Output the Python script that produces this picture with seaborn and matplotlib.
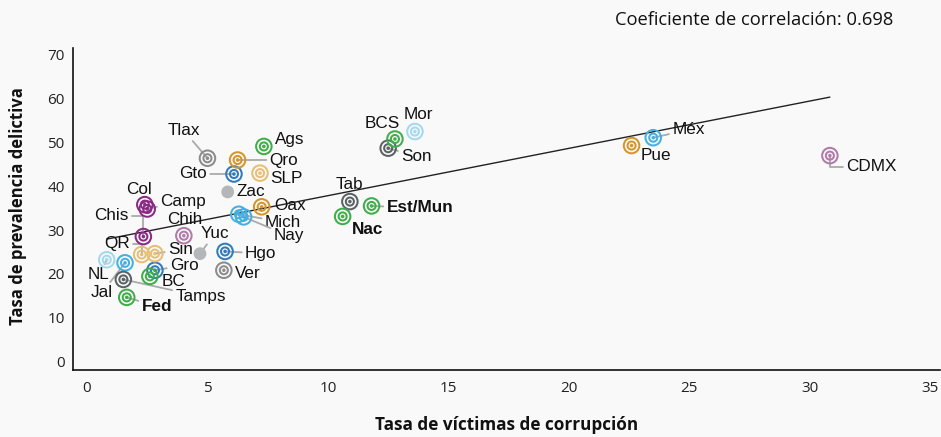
import pandas as pd
import seaborn as sns
import matplotlib.pyplot as plt
from matplotlib.path import Path
from matplotlib import font_manager

# Datos
entidades = ['Ags', 'Tlax', 'Qro', 'Gto', 'SLP', 'Zac', 'Oax', 'Mich', 'Nay', 'Col',
             'Camp', 'Chis', 'Chih', 'QR', 'Yuc', 'Sin', 'Hgo', 'Gro', 'Ver', 'BC',
             'NL', 'Jal', 'Tamps', 'Fed', 'BCS', 'Mor', 'Son', 'Tab', 'Est/Mun', 'Nac',
             'Méx', 'Pue', 'CDMX']
tasa_corrupcion = [7.34, 5.0, 6.25, 6.1, 7.18, 5.84, 7.25, 6.3, 6.5, 2.4,
                   2.5, 2.34, 4.02, 2.27, 4.69, 2.82, 5.73, 2.82, 5.68, 2.61,
                   0.82, 1.58, 1.51, 1.65, 12.78, 13.61, 12.5, 10.91, 11.81, 10.61,
                   23.5, 22.6, 30.83]
tasa_prevalencia = [49.1, 46.4, 46.0, 42.8, 43.0, 38.7, 35.3, 33.6, 33.0, 35.8,
                    34.8, 28.5, 28.7, 24.4, 24.6, 24.6, 25.1, 20.8, 20.8, 19.4,
                    23.2, 22.5, 18.7, 14.6, 50.8, 52.5, 48.7, 36.5, 35.5, 33.1,
                    51.1, 49.3, 47.0]
grupo = ['verde', 'gris', 'naranja', 'azul', 'naranja claro', 'punto', 'naranja', 'celeste', 'celeste', 'morado',
         'morado', 'morado', 'malva', 'naranja claro', 'punto', 'naranja claro', 'azul', 'azul', 'gris', 'verde',
         'celeste claro', 'celeste', 'gris oscuro', 'verde', 'verde', 'celeste claro', 'gris oscuro', 'gris oscuro', 'verde', 'verde',
         'celeste', 'naranja', 'malva']
agregados = ['Fed', 'Est/Mun', 'Nac']
coeficiente = 0.698

df = pd.DataFrame({'entidad': entidades, 'x': tasa_corrupcion,
                   'y': tasa_prevalencia, 'grupo': grupo})

colores = {'verde': '#3fae49', 'naranja': '#d4962a', 'naranja claro': '#e6bf75',
           'azul': '#2f7bbd', 'celeste': '#45b0e0', 'celeste claro': '#a3d9ee',
           'morado': '#8a2a85', 'malva': '#b27aab', 'gris': '#8c8c8c',
           'gris oscuro': '#5b6266', 'punto': '#b4b7b9'}

# posición de cada etiqueta (pixeles respecto al punto), alineación y línea guía
# guía: None = sin línea, 'r' = recta, 'c' = en codo
etiquetas = {
    'Ags': (11, 7, 'left', None), 'Tlax': (-24, 28, 'center', 'r'),
    'Qro': (32, 0, 'left', 'r'), 'Gto': (-27, 0, 'right', 'r'),
    'SLP': (10, -5, 'left', None), 'Zac': (9, 0, 'left', None),
    'Oax': (13, 1, 'left', None), 'Mich': (26, -8, 'left', 'r'),
    'Nay': (30, -19, 'left', 'r'), 'Col': (-6, 15, 'center', None),
    'Camp': (13, 8, 'left', 'r'), 'Chis': (-15, 21, 'right', 'c'),
    'Chih': (1, 16, 'center', None), 'QR': (-12, 11, 'right', 'c'),
    'Yuc': (15, 20, 'center', 'r'), 'Sin': (13, 4, 'left', 'r'),
    'Hgo': (20, -2, 'left', 'r'), 'Gro': (15, 5, 'left', 'r'),
    'Ver': (11, -3, 'left', None), 'BC': (12, -5, 'left', None),
    'NL': (3, -15, 'right', 'r'), 'Jal': (-12, -30, 'right', 'r'),
    'Tamps': (52, -17, 'left', 'r'), 'Fed': (15, -9, 'left', 'r'),
    'BCS': (-13, 16, 'center', None), 'Mor': (3, 17, 'center', None),
    'Son': (13, -8, 'left', 'r'), 'Tab': (0, 17, 'center', None),
    'Est/Mun': (15, -2, 'left', 'r'), 'Nac': (9, -13, 'left', None),
    'Méx': (19, 8, 'left', 'r'), 'Pue': (9, -10, 'left', None),
    'CDMX': (16, -11, 'left', 'c'),
}

fondo = '#f9f9f9'
sns.set_style('white')
disponibles = {f.name for f in font_manager.fontManager.ttflist}
fuente_ejes = 'Open Sans'
fuente_x = 'Liberation Sans Narrow' if 'Liberation Sans Narrow' in disponibles else 'Open Sans'
fuente_etq = 'Liberation Sans'

fig = plt.figure(figsize=(9.41, 4.37), dpi=100, facecolor=fondo)
ax = fig.add_axes([73 / 941, 1 - 370 / 437, 867 / 941, 322 / 437])
ax.set_facecolor(fondo)

# línea de tendencia (solo entidades federativas)
estados = df[~df['entidad'].isin(agregados)]
sns.regplot(data=estados, x='x', y='y', scatter=False, ci=None, truncate=True,
            line_kws={'color': '#222222', 'lw': 1.0, 'zorder': 2}, ax=ax)

# marcador de anillos concéntricos
anillo = Path.make_compound_path(Path.circle((0, 0), 1.0), Path.circle((0, 0), 0.52),
                                 Path.circle((0, 0), 0.1))
for g, sub in df.groupby('grupo'):
    if g == 'punto':
        sns.scatterplot(data=sub, x='x', y='y', s=85, color=colores[g],
                        edgecolor='none', zorder=4, ax=ax)
    else:
        sns.scatterplot(data=sub, x='x', y='y', marker=anillo, s=125,
                        facecolor='none', edgecolor=colores[g], linewidth=1.45,
                        zorder=4, ax=ax)

for _, fila in df.iterrows():
    dx, dy, ha, guia = etiquetas[fila['entidad']]
    peso = 'bold' if fila['entidad'] in agregados else 'normal'
    props = None
    if guia:
        props = dict(arrowstyle='-', color='#aaaaaa', lw=1.3, shrinkA=0, shrinkB=0)
        if guia == 'c':
            props['connectionstyle'] = 'angle,angleA=0,angleB=90,rad=0'
    ax.annotate(fila['entidad'], (fila['x'], fila['y']), xytext=(dx, dy),
                textcoords='offset pixels', ha=ha, va='center', fontsize=12.3,
                family=fuente_etq, fontweight=peso, color='#111111',
                arrowprops=props, zorder=3)

ax.set_xlim(-0.58, 35.4)
ax.set_ylim(-2, 71.6)
ax.set_xticks(range(0, 36, 5))
ax.set_yticks(range(0, 71, 10))
ax.tick_params(length=0, labelsize=11, colors='#222222')
ax.tick_params(axis='x', pad=8)
ax.tick_params(axis='y', pad=6)
for t in ax.get_xticklabels():
    t.set_family(fuente_x)
for t in ax.get_yticklabels():
    t.set_family(fuente_ejes)
sns.despine(ax=ax)
for s in ['left', 'bottom']:
    ax.spines[s].set_color('#111111')
    ax.spines[s].set_linewidth(1.2)

ax.set_xlabel('Tasa de víctimas de corrupción', family=fuente_ejes,
              fontweight='bold', fontsize=12.3, color='#111111')
ax.set_ylabel('Tasa de prevalencia delictiva', family=fuente_ejes,
              fontweight='bold', fontsize=12.0, color='#111111')
ax.xaxis.set_label_coords(0.5, -0.143)
ax.yaxis.set_label_coords(-0.053, 0.51)

fig.text(754 / 941, 1 - 20 / 437, f'Coeficiente de correlación: {coeficiente}',
         ha='center', va='center', family=fuente_ejes, fontsize=13.2, color='#111111')

fig.savefig('out.png', dpi=100, facecolor=fondo)
